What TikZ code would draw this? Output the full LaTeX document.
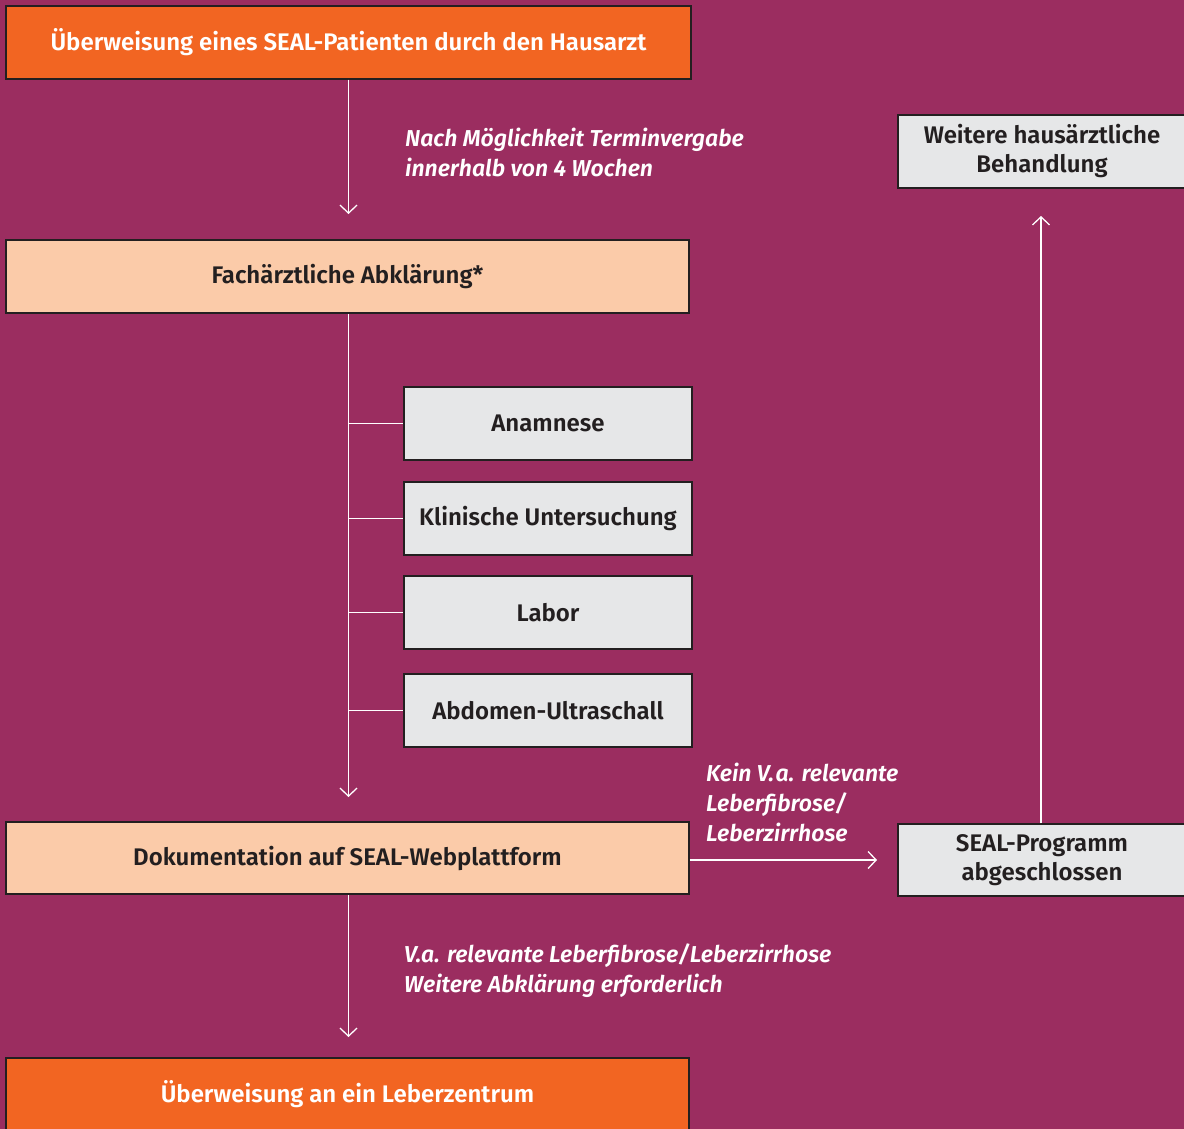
\documentclass[tikz,border=0pt]{standalone}
\usepackage{fontspec}
\setmainfont{Fira Sans}[UprightFont=* SemiBold, ItalicFont=* SemiBold Italic, BoldFont=* Bold]
\usetikzlibrary{arrows.meta}
\definecolor{bgpurple}{RGB}{155,45,96}
\definecolor{boxorange}{RGB}{242,101,34}
\definecolor{boxpeach}{RGB}{251,203,169}
\definecolor{boxgray}{RGB}{230,231,232}
\definecolor{darkline}{RGB}{35,31,32}
\tikzset{
  basebox/.style={draw=darkline, line width=1.5pt, inner sep=0pt, align=center, text=darkline},
  orangebox/.style={basebox, fill=boxorange, text=white, minimum width=683pt, minimum height=73pt, font=\fontsize{24}{29}\selectfont},
  peachbox/.style={basebox, fill=boxpeach, minimum width=683pt, minimum height=73pt, font=\fontsize{24}{29}\selectfont},
  graybox/.style={basebox, fill=boxgray, minimum width=288pt, minimum height=73pt, font=\fontsize{24}{29}\selectfont},
  sidebox/.style={basebox, fill=boxgray, minimum width=288pt, minimum height=73pt, font=\fontsize{24}{29}\selectfont},
  conn/.style={draw=white, line width=1.3pt},
  arr/.style={conn, -{Straight Barb[length=8pt, width=17pt, line width=1.3pt]}},
  lbl/.style={text=white, align=left, anchor=west, inner sep=0pt, font=\itshape\fontsize{23}{30}\selectfont}
}
\begin{document}
\begin{tikzpicture}[x=1pt, y=-1pt]
\fill[bgpurple] (0,0) rectangle (1184,1129);
\useasboundingbox (0,0) rectangle (1184,1129);
\clip (0,0) rectangle (1184,1129);

\node[orangebox, minimum width=685pt] (top) at (348.5,42.5) {Überweisung eines SEAL-Patienten durch den Hausarzt};
\node[peachbox] (fach) at (347.5,276.5) {Fachärztliche Abklärung*};
\node[graybox] (anam) at (548,423.5) {Anamnese};
\node[graybox] (klin) at (548,518.5) {Klinische Untersuchung};
\node[graybox] (labor) at (548,612.5) {Labor};
\node[graybox] (abdo) at (548,710.5) {Abdomen-Ultraschall};
\node[peachbox, minimum height=72pt] (doku) at (347.5,858) {Dokumentation auf SEAL-Webplattform};
\node[orangebox] (leber) at (347.5,1094.5) {Überweisung an ein Leberzentrum};
\node[sidebox, minimum height=72pt] (seal) at (1042,860) {SEAL-Programm\\abgeschlossen};
\node[sidebox] (weiter) at (1042,151.5) {Weitere hausärztliche\\Behandlung};

\coordinate (e1) at (348.5,214);
\coordinate (e2) at (348.5,797);
\coordinate (e3) at (877,860);
\coordinate (e4) at (1041,216);
\coordinate (e5) at (348.5,1037);

\draw[arr] (top.south -| e1) -- (e1);
\draw[arr] (fach.south -| e2) -- (e2);
\foreach \n in {anam,klin,labor,abdo} {
  \draw[conn] (\n.west -| e2) -- (\n.west);
}
\draw[arr] (doku.east |- e3) -- (e3);
\draw[arr] (seal.north -| e4) -- (e4);
\draw[arr] (doku.south -| e5) -- (e5);

\node[lbl] (l1) at (405,152) {Nach Möglichkeit Terminvergabe\\innerhalb von 4 Wochen};
\node[lbl] (l2) at (706,802) {Kein V.\kern1.5pt a. relevante\\Leberfibrose/\\Leberzirrhose};
\node[lbl] (l3) at (404,971) {V.a. relevante Leberfibrose/Leberzirrhose\\Weitere Abklärung erforderlich};
\end{tikzpicture}
\end{document}
